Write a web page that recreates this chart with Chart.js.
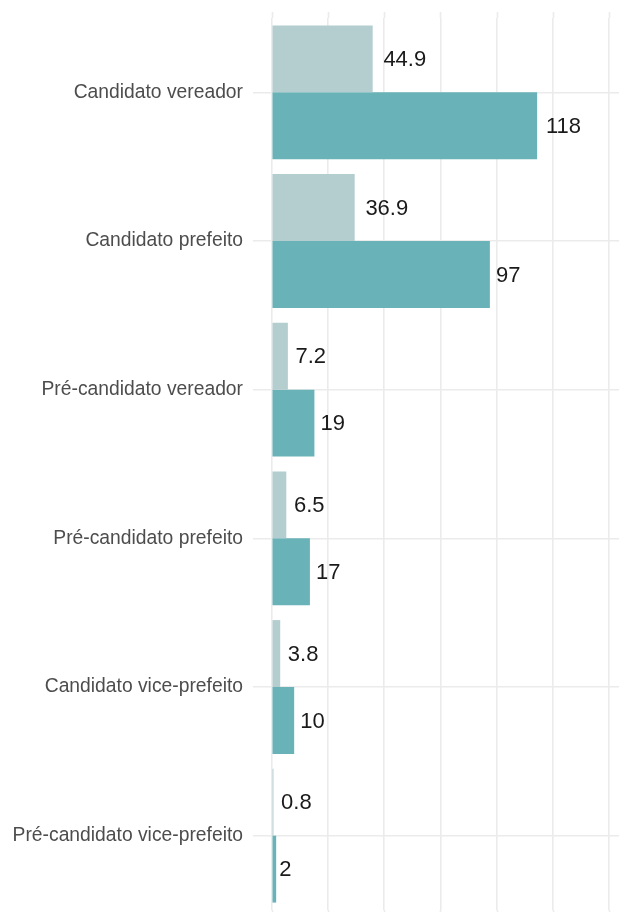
<!DOCTYPE html>
<html>
<head>
<meta charset="utf-8">
<script src="https://cdn.jsdelivr.net/npm/chart.js@4/dist/chart.umd.min.js"></script>
<style>
  html, body { margin: 0; padding: 0; background: #ffffff; }
  #wrap { width: 619px; height: 912px; }
</style>
</head>
<body>
<div id="wrap"><canvas id="c" width="619" height="912"></canvas></div>
<script>
const categories = [
  "Candidato vereador",
  "Candidato prefeito",
  "Pré-candidato vereador",
  "Pré-candidato prefeito",
  "Candidato vice-prefeito",
  "Pré-candidato vice-prefeito"
];
const percentValues = [44.9, 36.9, 7.2, 6.5, 3.8, 0.8];
const countValues = [118, 97, 19, 17, 10, 2];
const gridTicks = [0, 25, 50, 75, 100, 125, 150];

const GRID_COLOR = '#ebebeb';
const GRID_WIDTH = 1.6;

// extends the vertical grid lines a little beyond the plotting area, as in the reference
const gridExtendPlugin = {
  id: 'gridExtend',
  beforeDatasetsDraw(chart) {
    const ctx = chart.ctx;
    const xs = chart.scales.x;
    const a = chart.chartArea;
    ctx.save();
    ctx.strokeStyle = GRID_COLOR;
    ctx.lineWidth = GRID_WIDTH;
    gridTicks.forEach(v => {
      const px = Math.round(xs.getPixelForValue(v)) + 0.5;
      ctx.beginPath();
      ctx.moveTo(px, a.top - 6);
      ctx.lineTo(px, a.top);
      ctx.moveTo(px, a.bottom);
      ctx.lineTo(px, chart.height);
      ctx.stroke();
    });
    ctx.restore();
  }
};

const valueLabelPlugin = {
  id: 'valueLabels',
  afterDatasetsDraw(chart) {
    const ctx = chart.ctx;
    ctx.save();
    ctx.font = '22px "Liberation Sans", Arial, sans-serif';
    ctx.fillStyle = '#1a1a1a';
    ctx.textAlign = 'left';
    ctx.textBaseline = 'middle';
    chart.data.datasets.forEach((ds, di) => {
      const meta = chart.getDatasetMeta(di);
      meta.data.forEach((bar, i) => {
        const txt = String(ds.data[i]);
        const w = ctx.measureText(txt).width;
        ctx.fillText(txt, bar.x + 0.25 * w, bar.y + 1);
      });
    });
    ctx.restore();
  }
};

new Chart(document.getElementById('c'), {
  type: 'bar',
  data: {
    labels: categories,
    datasets: [
      {
        label: 'Percentual',
        data: percentValues,
        backgroundColor: '#b4cdcf',
        borderWidth: 0,
        categoryPercentage: 0.9,
        barPercentage: 1.0
      },
      {
        label: 'Quantidade',
        data: countValues,
        backgroundColor: '#69b3b8',
        borderWidth: 0,
        categoryPercentage: 0.9,
        barPercentage: 1.0
      }
    ]
  },
  options: {
    indexAxis: 'y',
    responsive: false,
    animation: false,
    layout: { padding: { top: 18, bottom: 2, left: 0, right: 0 } },
    plugins: {
      legend: { display: false },
      tooltip: { enabled: false }
    },
    scales: {
      x: {
        type: 'linear',
        min: -8.3,
        max: 154.4,
        afterBuildTicks(scale) {
          scale.ticks = gridTicks.map(v => ({ value: v }));
        },
        afterFit(scale) { scale.height = 0; },
        ticks: { display: false },
        border: { display: false },
        grid: { color: GRID_COLOR, lineWidth: GRID_WIDTH, drawTicks: false }
      },
      y: {
        type: 'category',
        offset: true,
        afterFit(scale) {
          scale.width = 253;
          scale.paddingTop = 0;
          scale.paddingBottom = 0;
        },
        ticks: {
          padding: 10,
          color: '#4d4d4d',
          font: { family: '"Liberation Sans", Arial, sans-serif', size: 19.3 }
        },
        border: { display: false },
        grid: { color: GRID_COLOR, lineWidth: GRID_WIDTH, drawTicks: false, offset: false }
      }
    }
  },
  plugins: [gridExtendPlugin, valueLabelPlugin]
});
</script>
</body>
</html>
